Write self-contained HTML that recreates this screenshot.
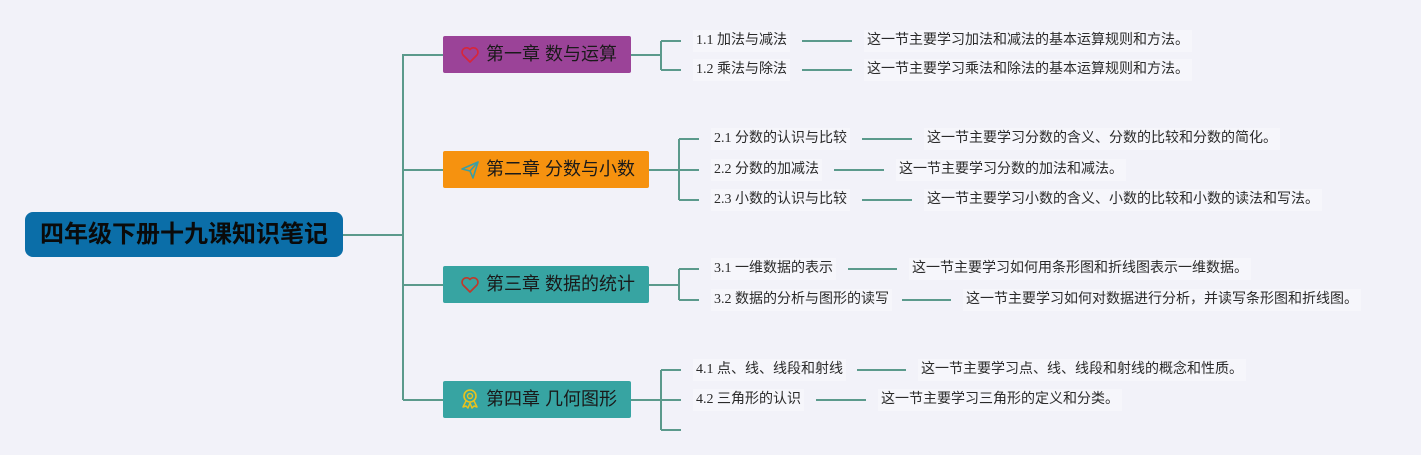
<!DOCTYPE html>
<html><head><meta charset="utf-8">
<style>
html,body{margin:0;padding:0;}
body{width:1421px;height:455px;background:#f2f2f9;position:relative;overflow:hidden;font-family:"Liberation Serif","Noto Sans CJK SC",sans-serif;}
.t{position:absolute;height:22px;line-height:22px;font-size:14px;color:#2a2a2a;white-space:nowrap;background:#f6f6fb;padding:0 3px;margin-left:-3px;}
.box{position:absolute;height:37px;border-radius:2px;}
.ct{position:absolute;left:43px;top:0;line-height:37px;font-size:18px;color:#1a1a1a;font-family:"Liberation Sans","Noto Sans CJK SC",sans-serif;white-space:nowrap;}
.root{position:absolute;left:25px;top:212px;width:318px;height:45px;background:#0b6ea8;border-radius:8px;}
.root span{position:absolute;left:15px;top:0;line-height:45px;font-size:24px;font-weight:bold;color:#0a0a0a;font-family:"Liberation Sans","Noto Sans CJK SC",sans-serif;letter-spacing:0px;}
svg{position:absolute;left:0;top:0;}
</style></head><body>
<svg width="1421" height="455">
<g stroke="#5b9a8c" stroke-width="2" fill="none">
<path d="M343 235H403M403 54V400M403 55H443M403 170H443M403 285H443M403 400H443"/>
<path d="M631 55H661M661 41V70M661 41H681M661 70H681"/>
<path d="M649 170H679M679 139V200M679 139H699M679 170H699M679 200H699"/>
<path d="M649 285H679M679 269V300M679 269H699M679 300H699"/>
<path d="M631 400H661M661 370V430M661 370H681M661 400H681M661 430H681"/>
<path d="M802 41H852M802 70H852"/>
<path d="M862 139H912M834 170H884M862 200H912"/>
<path d="M848 269H897M902 300H951"/>
<path d="M857 370H906M816 400H866"/>
</g>
</svg>
<div class="root"><span>四年级下册十九课知识笔记</span></div>

<div class="box" style="left:443px;top:36px;width:188px;background:#9b4398;">
<svg width="20" height="20" style="left:17px;top:9px;"><path d="M10 17 L3 10 A4 4 0 0 1 10 4.5 A4 4 0 0 1 17 10 Z" fill="none" stroke="#d7263b" stroke-width="1.7" stroke-linejoin="round"/></svg>
<div class="ct">第一章 数与运算</div></div>

<div class="box" style="left:443px;top:151px;width:206px;background:#f6920f;">
<svg width="20" height="20" style="left:17px;top:9px;"><path d="M2 9 L18 2 L13 18 L10 11 Z M10 11 L18 2" fill="none" stroke="#3b9ea4" stroke-width="1.6" stroke-linejoin="round"/></svg>
<div class="ct">第二章 分数与小数</div></div>

<div class="box" style="left:443px;top:266px;width:206px;background:#37a4a2;">
<svg width="20" height="20" style="left:17px;top:9px;"><path d="M10 17 L3 10 A4 4 0 0 1 10 4.5 A4 4 0 0 1 17 10 Z" fill="none" stroke="#c0392b" stroke-width="1.7" stroke-linejoin="round"/></svg>
<div class="ct">第三章 数据的统计</div></div>

<div class="box" style="left:443px;top:381px;width:188px;background:#37a4a2;">
<svg width="20" height="22" style="left:17px;top:7px;"><circle cx="10" cy="8" r="6" fill="none" stroke="#e8c21e" stroke-width="1.6"/><circle cx="10" cy="8" r="2.5" fill="none" stroke="#e8c21e" stroke-width="1.4"/><path d="M6 13 L3 19 L6 18 L8 20 L10 15 L12 20 L14 18 L17 19 L14 13" fill="none" stroke="#e8c21e" stroke-width="1.5" stroke-linejoin="round"/></svg>
<div class="ct">第四章 几何图形</div></div>

<div class="t" style="left:696px;top:30px;">1.1 加法与减法</div>
<div class="t" style="left:696px;top:59px;">1.2 乘法与除法</div>
<div class="t" style="left:867px;top:30px;">这一节主要学习加法和减法的基本运算规则和方法。</div>
<div class="t" style="left:867px;top:59px;">这一节主要学习乘法和除法的基本运算规则和方法。</div>

<div class="t" style="left:714px;top:128px;">2.1 分数的认识与比较</div>
<div class="t" style="left:714px;top:159px;">2.2 分数的加减法</div>
<div class="t" style="left:714px;top:189px;">2.3 小数的认识与比较</div>
<div class="t" style="left:927px;top:128px;">这一节主要学习分数的含义、分数的比较和分数的简化。</div>
<div class="t" style="left:899px;top:159px;">这一节主要学习分数的加法和减法。</div>
<div class="t" style="left:927px;top:189px;">这一节主要学习小数的含义、小数的比较和小数的读法和写法。</div>

<div class="t" style="left:714px;top:258px;">3.1 一维数据的表示</div>
<div class="t" style="left:714px;top:289px;">3.2 数据的分析与图形的读写</div>
<div class="t" style="left:912px;top:258px;">这一节主要学习如何用条形图和折线图表示一维数据。</div>
<div class="t" style="left:966px;top:289px;">这一节主要学习如何对数据进行分析，并读写条形图和折线图。</div>

<div class="t" style="left:696px;top:359px;">4.1 点、线、线段和射线</div>
<div class="t" style="left:696px;top:389px;">4.2 三角形的认识</div>
<div class="t" style="left:921px;top:359px;">这一节主要学习点、线、线段和射线的概念和性质。</div>
<div class="t" style="left:881px;top:389px;">这一节主要学习三角形的定义和分类。</div>
</body></html>
